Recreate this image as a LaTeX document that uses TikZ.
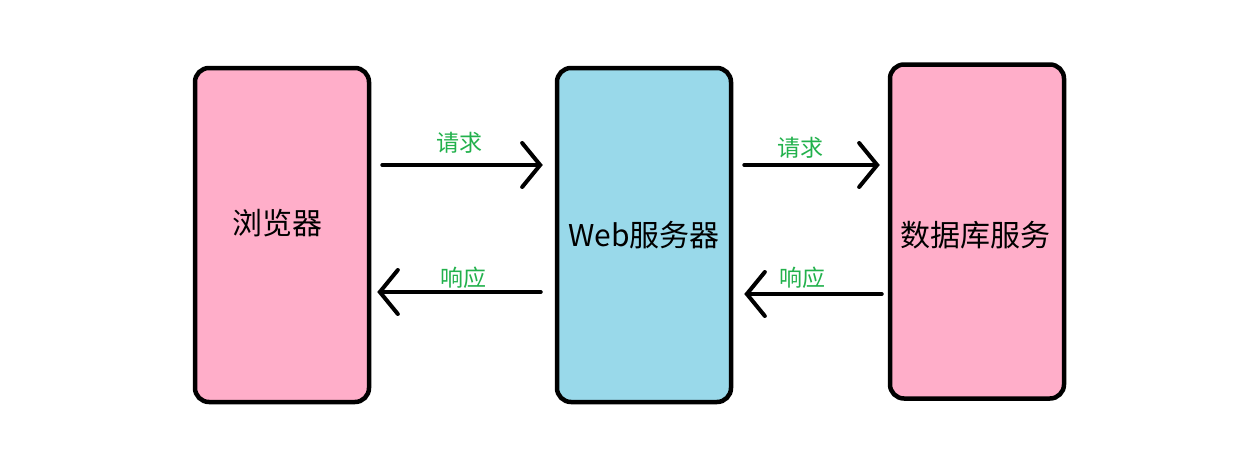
\documentclass[tikz,border=0pt]{standalone}
\usepackage{fontspec}
\setmainfont{Noto Sans CJK SC}
\usetikzlibrary{arrows.meta}

\definecolor{boxpink}{HTML}{FFAEC9}
\definecolor{boxblue}{HTML}{99D9EA}
\definecolor{lblgreen}{HTML}{22B14C}

\tikzset{
  tier/.style={draw=black,line width=4.5pt,rounded corners=14pt,
    minimum width=174pt,minimum height=334pt},
  tiertext/.style={font=\fontsize{30}{36}\selectfont,inner sep=0pt},
  flow/.style={line width=4pt,line cap=round,
    -{Straight Barb[length=18pt,width=44pt,line cap=round]}},
  lbl/.style={text=lblgreen,font=\fontsize{23}{27}\selectfont,inner sep=0pt}
}

\begin{document}
\begin{tikzpicture}[x=1pt,y=-1pt]
                        \useasboundingbox(0,0)rectangle(1245,451);
                        \node[tier,fill=boxpink,label={[tiertext,xshift=-5pt,yshift=12pt]center:浏览器}](browser)at(282,235){};
                        \node[tier,fill=boxblue,label={[tiertext]center:Web服务器}](web)at(644,235){};
                        \node[tier,fill=boxpink,label={[tiertext,xshift=-2pt,yshift=-4pt]center:数据库服务}](db)at(977,231.5){};
                        % requests
                        \draw[flow,shorten <=11pt,shorten >=12pt]([yshift=70pt]browser.east)--([yshift=70pt]browser.east-|web.west)
                          node[lbl,midway,above=10pt,xshift=-4pt]{请求};
                        \draw[flow,shorten <=11pt,shorten >=8pt]([yshift=70pt]web.east)--([yshift=70pt]web.east-|db.west)
                          node[lbl,midway,above=5pt,xshift=-10pt]{请求};
                        % responses
                        \draw[flow,shorten <=14pt,shorten >=6pt]([yshift=-57pt]web.west)--([yshift=-57pt]web.west-|browser.east)
                          node[lbl,midway,above=2pt]{响应};
                        \draw[flow,shorten <=6pt,shorten >=11pt]([yshift=-59pt]web.east-|db.west)--([yshift=-59pt]web.east)
                          node[lbl,midway,above=3.5pt,xshift=-8pt]{响应};
                    \end{tikzpicture}
\end{document}
